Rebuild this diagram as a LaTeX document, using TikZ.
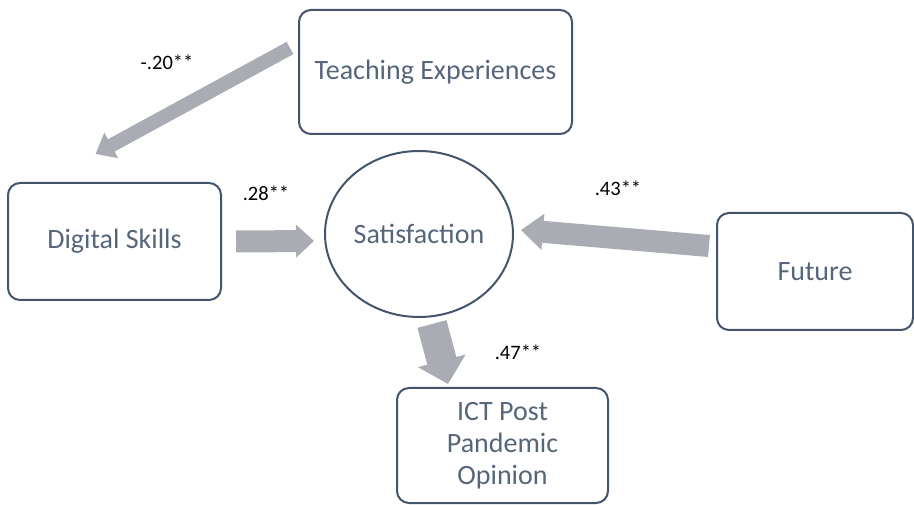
\documentclass[tikz,border=0pt]{standalone}
\usepackage{fontspec}
\setmainfont{Carlito}
\usetikzlibrary{shapes.geometric}
\usetikzlibrary{arrows.meta}
\usetikzlibrary{positioning}
\definecolor{boxslate}{HTML}{44546A}
\definecolor{textslate}{HTML}{56657A}
\definecolor{pathgray}{HTML}{A9ACB2}
\tikzset{%
  construct/.style={draw=boxslate,line width=2pt,rounded corners=12pt,text=textslate,
    font=\fontsize{28}{32}\selectfont,align=center,inner sep=0pt},
  latent/.style={ellipse,draw=boxslate,line width=2pt,text=textslate,
    font=\fontsize{28}{32}\selectfont,inner sep=0pt,minimum width=188pt,minimum height=166pt},
  effect/.style n args={3}{draw=pathgray,line width=#1,-{Triangle[width=#2,length=#3]}},
  coef/.style={font=\fontsize{20.5}{24}\selectfont,text=black,inner sep=0pt}
}

\begin{document}
\begin{tikzpicture}[x=1pt,y=-1pt]
  \useasboundingbox (0,0) rectangle (914,505);

  \node[construct,minimum width=273pt,minimum height=124pt] (teach) at (435.5,72) {Teaching Experiences};
  \node[construct,minimum width=213pt,minimum height=117pt] (digital) at (114.5,241.5) {Digital Skills};
  \node[latent] (satis) at (419,234) {Satisfaction};
  \node[construct,minimum width=196pt,minimum height=117pt] (future) at (815,271.5) {Future};
  \node[construct,minimum width=211pt,minimum height=115pt] (ict) at (502.5,445.5) {ICT Post\\Pandemic\\Opinion};

  % path coefficients
  \node[coef] (coefTD) at (167,62) {-.20**};
  \node[coef] (coefDS) at (266,193) {.28**};
  \node[coef] (coefFS) at (618,188) {.43**};
  \node[coef] (coefSI) at (518,352) {.47**};

  \draw[effect={14pt}{28pt}{18pt}] ([shift={(-8,-24)}]teach.west) -- ([shift={(-19,-28)}]digital.north);
  \draw[effect={22pt}{32pt}{18pt}] ([shift={(14,0)}]digital.east) -- ([shift={(-10,7)}]satis.west);
  \draw[effect={22pt}{35pt}{22pt}] ([shift={(-7,-25.5)}]future.west) -- ([shift={(7,-4)}]satis.east);
  \draw[effect={30pt}{48pt}{24pt}] ([shift={(13,6)}]satis.south) -- ([shift={(-54.5,-3)}]ict.north);
\end{tikzpicture}
\end{document}
